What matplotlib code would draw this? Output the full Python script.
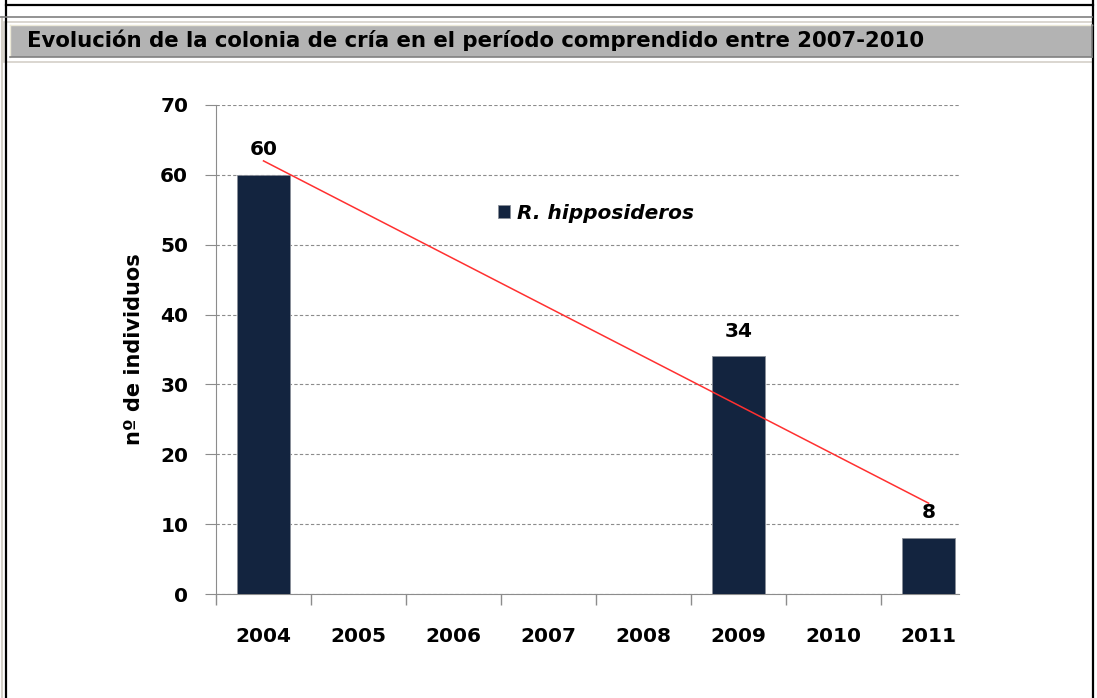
import numpy as np
import matplotlib
matplotlib.use("Agg")
import matplotlib.pyplot as plt
from matplotlib.patches import Rectangle
from matplotlib.lines import Line2D

# ---------- Data ----------
years = ["2004", "2005", "2006", "2007", "2008", "2009", "2010", "2011"]
counts = [60, None, None, None, None, 34, None, 8]
species = "R. hipposideros"
title = "Evolución de la colonia de cría en el período comprendido entre 2007-2010"

W, H = 1097, 698
bar_color = "#13243f"
font = "DejaVu Sans"
fs = 14.5

fig = plt.figure(figsize=(W / 100, H / 100), dpi=100)

# ---------- Page frame (pixel coordinates) ----------
frame = fig.add_axes([0, 0, 1, 1])
frame.set_xlim(0, W)
frame.set_ylim(H, 0)
frame.axis("off")

def hline(y, x0, x1, color, lw=1.0):
    frame.add_line(Line2D([x0, x1], [y, y], color=color, lw=lw))

def vline(x, y0, y1, color, lw=1.0):
    frame.add_line(Line2D([x, x], [y0, y1], color=color, lw=lw))

vline(2, 17, H, "#d4d0c8", 1.5)
vline(6, 0, H, "black", 1.6)
vline(1093, 0, H, "black", 1.6)
hline(5, 6, 1093, "black", 1.6)
hline(17, 0, 1092, "#808080", 1.2)
frame.add_patch(Rectangle((4, 22), 1089, 40, facecolor="white",
                          edgecolor="#d4d0c8", lw=1.2))
frame.add_patch(Rectangle((10, 25), 1082, 32, facecolor="#b3b3b3",
                          edgecolor="none"))
hline(25, 10, 1092, "#ece9d8", 1.0)
vline(10, 25, 57, "#ece9d8", 1.0)
hline(56.5, 10, 1092, "#808080", 1.2)
vline(1091.5, 25, 57, "#808080", 1.2)
frame.text(27, 40, title, fontsize=15.35, fontweight="bold", family=font,
           ha="left", va="center", color="black")

# ---------- Chart ----------
ax = fig.add_axes([216 / W, (H - 594) / H, (959 - 216) / W, (594 - 105) / H])
x = np.arange(len(years))
vals = np.array([np.nan if v is None else v for v in counts], dtype=float)
bars = ax.bar(x, np.nan_to_num(vals), width=0.56, color=bar_color,
              edgecolor="#8a8f99", linewidth=0.6, zorder=3)
for xi, v in zip(x, vals):
    if not np.isnan(v):
        ax.text(xi, v + 3.6, f"{int(v)}", ha="center", va="center",
                fontsize=fs, fontweight="bold", family=font)

# linear trend over the years with data
mask = ~np.isnan(vals)
slope, icpt = np.polyfit(x[mask], vals[mask], 1)
tx = np.array([x[mask].min(), x[mask].max()])
ax.plot(tx, slope * tx + icpt, color="#ff3030", lw=1.1, zorder=4)

ax.set_yticks(range(0, 71, 10))
ax.grid(axis="y", color="#8c8c8c", linestyle=(0, (3, 2)), lw=0.8, zorder=0)
for s in ["top", "right"]:
    ax.spines[s].set_visible(False)
ax.spines["left"].set_color("#8c8c8c")
ax.spines["bottom"].set_color("#8c8c8c")
ax.set_xticks(np.arange(len(years)) - 0.5)
ax.set_xticklabels([])
ax.set_xticks(x, minor=True)
ax.set_xticklabels(years, minor=True)
ax.set_xlim(-0.5, 7.32)
ax.set_ylim(0, 70)
ax.tick_params(axis="x", which="major", length=8, color="#8c8c8c", width=1)
ax.tick_params(axis="x", which="minor", length=0, pad=24)
ax.tick_params(axis="y", length=8, color="#8c8c8c", width=0.8, pad=12)
for lab in ax.get_xticklabels(minor=True) + ax.get_yticklabels():
    lab.set_fontweight("bold")
    lab.set_fontsize(fs)
    lab.set_family(font)
ax.set_ylabel("nº de individuos", fontsize=15, fontweight="bold",
              family=font, va="center")
ax.yaxis.set_label_coords(-0.11, 0.5)

# legend entry
leg = ax.legend([bars], [species], loc="center left",
                bbox_to_anchor=(0.366, 0.779), frameon=False, borderpad=0,
                handlelength=0.6, handleheight=0.6, handletextpad=0.35,
                prop={"family": font, "weight": "bold", "style": "italic",
                      "size": fs})

fig.savefig("out.png", dpi=100)
